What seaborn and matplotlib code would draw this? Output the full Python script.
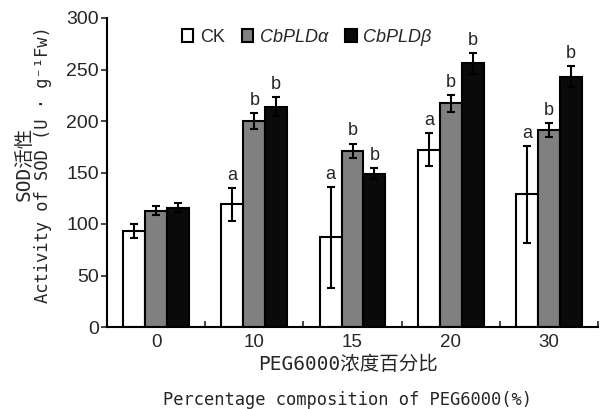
import numpy as np
import pandas as pd
import matplotlib
matplotlib.use('Agg')
import matplotlib.pyplot as plt
import seaborn as sns
from matplotlib.ticker import FixedLocator

groups = ['0', '10', '15', '20', '30']
series = ['CK', 'CbPLDα', 'CbPLDβ']
ck = [93, 119, 87, 172, 129]
ck_err = [7, 16, 49, 16, 47]
alpha = [113, 200, 171, 217, 191]
alpha_err = [4, 8, 7, 8, 7]
beta = [116, 214, 149, 256, 243]
beta_err = [4, 9, 5, 10, 10]
ck_letters = ['', 'a', 'a', 'a', 'a']
alpha_letters = ['', 'b', 'b', 'b', 'b']
beta_letters = ['', 'b', 'b', 'b', 'b']
colors = ['white', '#808080', '#0a0a0a']
yticks = [0, 50, 100, 150, 200, 250, 300]

df = pd.DataFrame({
    'group': groups * 3,
    'series': np.repeat(series, len(groups)),
    'value': ck + alpha + beta,
})

sns.set_theme(style='ticks')
plt.rcParams['font.family'] = ['Liberation Sans', 'DejaVu Sans']

fig = plt.figure(figsize=(6.04, 4.09), dpi=100)
ax = fig.add_axes([107 / 604, 1 - 327 / 409, (598 - 107) / 604, (327 - 18) / 409])

sns.barplot(data=df, x='group', y='value', hue='series', order=groups,
            hue_order=series, palette=colors, width=0.67, gap=0,
            edgecolor='black', linewidth=1.5, errorbar=None, saturation=1, ax=ax)

for cont, errs, letters in zip(ax.containers, [ck_err, alpha_err, beta_err],
                               [ck_letters, alpha_letters, beta_letters]):
    for bar, e, l in zip(cont, errs, letters):
        x = bar.get_x() + bar.get_width() / 2
        h = bar.get_height()
        ax.errorbar(x, h, yerr=e, fmt='none', ecolor='black', elinewidth=1.5,
                    capsize=3, capthick=1.5, zorder=5)
        if l:
            ax.annotate(l, (x, h + e), xytext=(0, 3), textcoords='offset points',
                        ha='center', va='bottom', fontsize=13)

ax.set_ylim(0, 300)
ax.set_yticks(yticks)
ax.set_xlim(-0.5, 4.5)
ax.tick_params(axis='y', direction='out', length=4, width=1.2, labelsize=14, pad=2)
ax.tick_params(axis='x', which='major', length=0, labelsize=13.5, pad=5)
ax.xaxis.set_minor_locator(FixedLocator([0.5, 1.5, 2.5, 3.5, 4.5]))
ax.tick_params(axis='x', which='minor', direction='in', length=4, width=1.2)
sns.despine(ax=ax)
for s in ['left', 'bottom']:
    ax.spines[s].set_linewidth(1.5)
    ax.spines[s].set_color('black')
ax.set_xlabel('')
ax.set_ylabel('')

sns.move_legend(ax, 'center left', bbox_to_anchor=(0.152, 0.938), ncol=3, title=None,
                frameon=False, fontsize=13, handlelength=0.65, handleheight=0.8,
                handletextpad=0.35, columnspacing=0.95, borderpad=0, borderaxespad=0)
leg = ax.get_legend()
for t in leg.get_texts()[1:]:
    t.set_fontstyle('italic')

mono_cjk = ['DejaVu Sans Mono', 'Noto Sans CJK SC', 'DejaVu Sans']
fig.text(348.5 / 604, 1 - 369.5 / 409, 'PEG6000浓度百分比', ha='center', va='baseline',
         fontsize=14, family=mono_cjk)
fig.text(347.5 / 604, 1 - 400 / 409, 'Percentage composition of PEG6000(%)',
         ha='center', va='center', fontsize=12.3, family=mono_cjk)
fig.text(24 / 604, 1 - 164 / 409, 'SOD活性', rotation=90, ha='center', va='center',
         fontsize=14, family=mono_cjk)
fig.text(43 / 604, 1 - 165 / 409, 'Activity of SOD (U · g⁻¹Fw)', rotation=90,
         ha='center', va='center', fontsize=12.3, family=mono_cjk)

fig.savefig('out.png', dpi=100)
